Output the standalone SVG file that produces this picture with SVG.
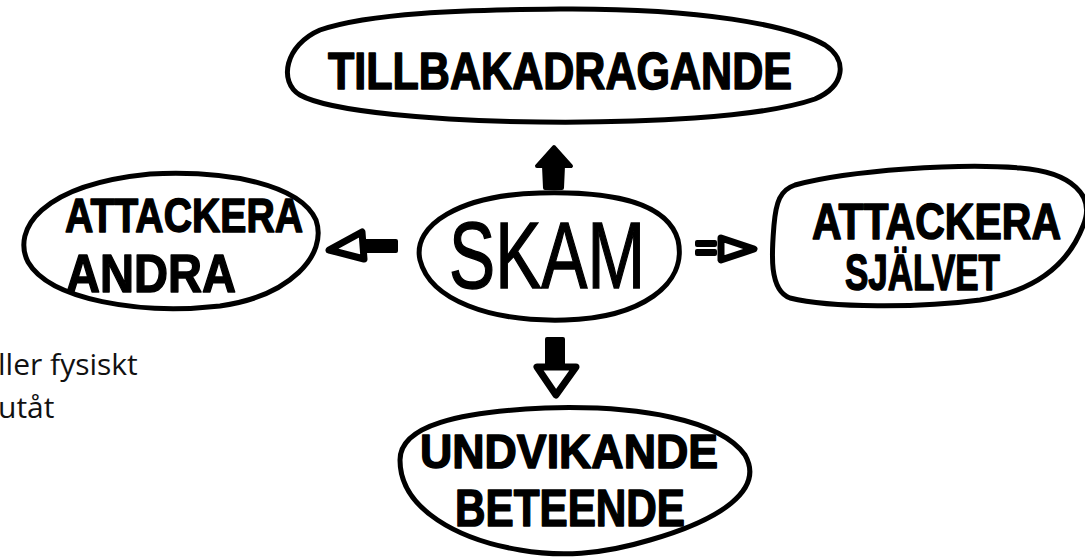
<svg xmlns="http://www.w3.org/2000/svg" width="1085" height="560" viewBox="0 0 1085 560">
  <style>
    .shape { fill: none; stroke: #000; stroke-width: 5; stroke-linejoin: round; stroke-linecap: round; }
    .hand { font-family: "Liberation Sans", "DejaVu Sans", sans-serif; font-weight: bold; fill: #000; stroke: #000; stroke-width: 1.5; stroke-linejoin: round; }
    .skam { font-family: "Liberation Sans", "DejaVu Sans", sans-serif; font-weight: normal; fill: #000; stroke: #000; stroke-width: 1.5; }
    .note { font-family: "Open Sans", "Noto Sans", sans-serif; font-size: 30px; fill: #111; }
    .arrow { fill: #000; stroke: #000; stroke-width: 4; stroke-linejoin: round; }
    .head { fill: #fff; stroke: #000; stroke-width: 7; stroke-linejoin: round; }
  </style>
  <rect width="1085" height="560" fill="#fff"/>

  <g id="connectors">
    <polygon class="arrow" points="554,147 571,166 563,166 562,188 545,188 544,166 537,166"/>
    <g id="arrow-left">
      <rect class="arrow" x="366" y="241" width="30" height="10"/>
      <polygon class="head" points="329,250 362,232 364,259"/>
    </g>
    <g id="arrow-right">
      <rect class="arrow" x="697" y="242" width="18" height="3"/>
      <rect class="arrow" x="697" y="251" width="18" height="3"/>
      <polygon class="head" points="721,238 754,249 721,260"/>
    </g>
    <g id="arrow-down">
      <rect class="arrow" x="547" y="339" width="16" height="25"/>
      <polygon class="head" points="537,367 576,367 556,395"/>
    </g>
  </g>

  <g id="node-tillbakadragande">
    <path class="shape" d="M560,9 C700,8 790,25 825,45 C848,60 845,86 815,99 C760,118 640,123 540,122 C440,121 330,112 300,95 C278,82 285,45 320,30 C370,13 460,10 560,9 Z"/>
    <text class="hand" x="328" y="89" font-size="52" textLength="464" lengthAdjust="spacingAndGlyphs">TILLBAKADRAGANDE</text>
  </g>

  <g id="node-attackera-andra">
    <path class="shape" d="M150,174 C230,170 300,185 316,220 C328,255 290,296 220,306 C140,315 50,300 28,262 C12,230 40,185 150,174 Z"/>
    <text class="hand" x="65" y="232" font-size="48" textLength="238" lengthAdjust="spacingAndGlyphs">ATTACKERA</text>
    <text class="hand" x="66" y="292" font-size="54" textLength="170" lengthAdjust="spacingAndGlyphs">ANDRA</text>
  </g>

  <g id="node-skam">
    <path class="shape" d="M540,193 C620,191 668,205 678,240 C688,285 640,318 565,320 C490,322 430,300 420,260 C412,225 460,195 540,193 Z"/>
    <text class="skam" x="449" y="288" font-size="94" textLength="196" lengthAdjust="spacingAndGlyphs">SKAM</text>
  </g>

  <g id="node-attackera-sjalvet">
    <path class="shape" d="M795,185 C850,170 960,163 1020,168 C1072,172 1096,196 1083,226 C1070,260 1040,290 980,300 C920,308 830,308 790,298 C768,290 772,250 774,225 C776,202 780,190 795,185 Z"/>
    <text class="hand" transform="translate(812,239) scale(0.82,1)" font-size="50">ATTACKERA</text>
    <text class="hand" x="845" y="290" font-size="50" textLength="155" lengthAdjust="spacingAndGlyphs">SJÄLVET</text>
  </g>

  <g id="node-undvikande">
    <path class="shape" d="M545,408 C640,405 720,420 745,455 C765,490 720,520 650,540 C600,555 560,557 520,550 C460,540 400,510 400,460 C400,425 460,412 545,408 Z"/>
    <text class="hand" x="420" y="468" font-size="48" textLength="298" lengthAdjust="spacingAndGlyphs">UNDVIKANDE</text>
    <text class="hand" x="455" y="526" font-size="52" textLength="230" lengthAdjust="spacingAndGlyphs">BETEENDE</text>
  </g>

  <g id="note">
    <text class="note" x="-2" y="375">ller fysiskt</text>
    <text class="note" x="-2" y="418">utåt</text>
  </g>
</svg>
